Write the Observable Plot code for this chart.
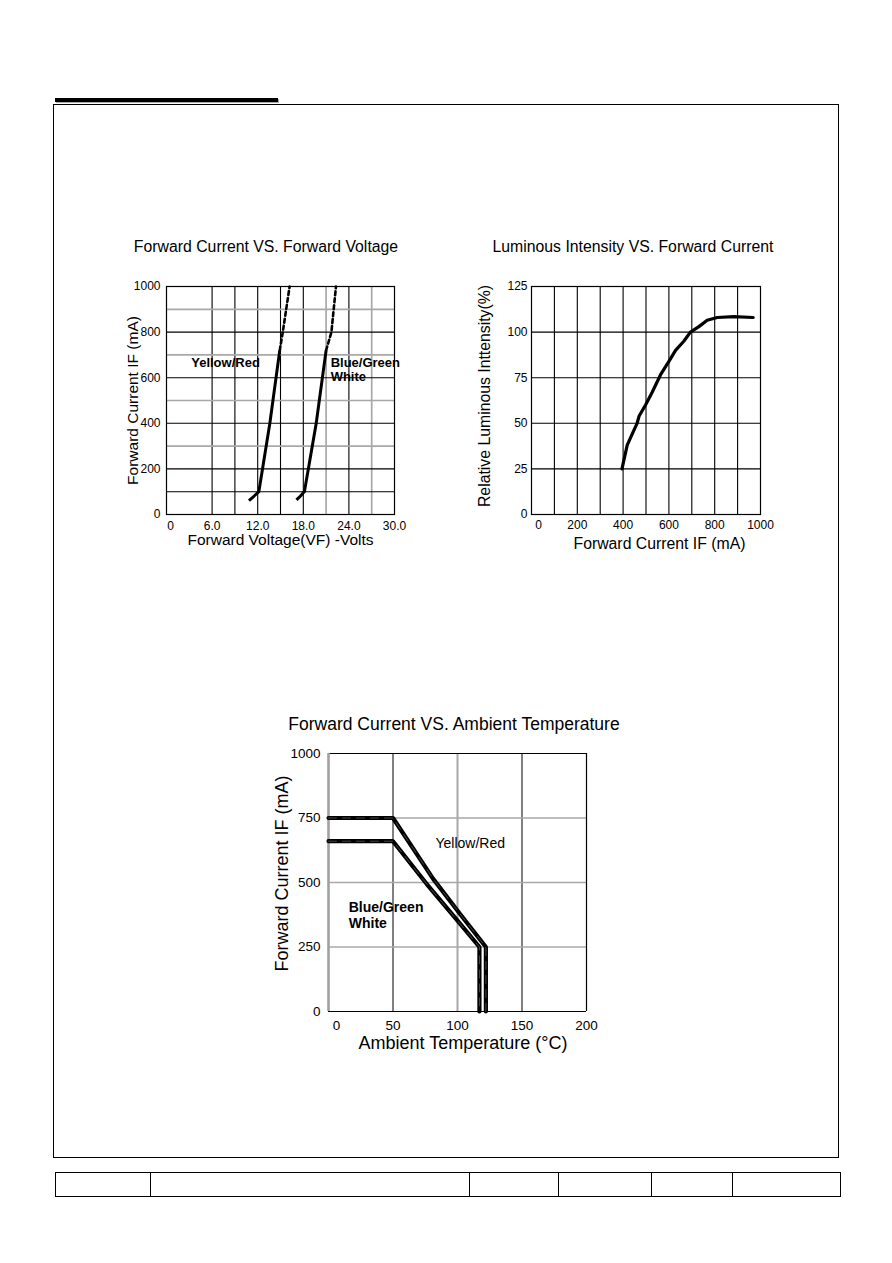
<!DOCTYPE html>
<html><head><meta charset="utf-8">
<script src="https://cdn.jsdelivr.net/npm/d3@7"></script>
<script src="https://cdn.jsdelivr.net/npm/@observablehq/plot@0.6"></script>
<style>
body{margin:0;background:#fff;font-family:"Liberation Sans",Arial,sans-serif;}
#page{position:relative;width:892px;height:1263px;overflow:hidden;background:#fff;}
.abs{position:absolute;}
.title{position:absolute;transform:translate(-50%,-50%);white-space:nowrap;color:#000;line-height:1;}
.vline{position:absolute;top:0;width:1px;height:100%;background:#000;}
</style></head><body><div id="page">
<div class="abs" style="left:55px;top:98px;width:223px;height:4px;background:#000;box-shadow:1px 1px 0 #aaa;"></div>
<div class="abs" style="left:53px;top:104px;width:786px;height:1054px;border:1px solid #000;box-sizing:border-box;"></div>
<div class="abs" id="table" style="left:55px;top:1172px;width:786px;height:25px;border:1.5px solid #000;box-sizing:border-box;"></div>
<div class="title" id="t1" style="left:266px;top:247px;font-size:15.8px;"></div>
<div class="title" id="t2" style="left:633px;top:247px;font-size:15.8px;"></div>
<div class="title" id="t3" style="left:454px;top:725px;font-size:17.5px;"></div>
<div class="abs" id="c1" style="left:100px;top:276px;"></div>
<div class="abs" id="c2" style="left:470px;top:276px;"></div>
<div class="abs" id="c3" style="left:260px;top:740px;"></div>
</div>
<script>
// ---------- Chart 1: Forward Current vs Forward Voltage ----------
const title1 = "Forward Current VS. Forward Voltage";
const xLabel1 = "Forward Voltage(VF) -Volts";
const yLabel1 = "Forward Current IF (mA)";
const vfTicks = [6, 12, 18, 24, 30];
const ifTicks1 = [0, 200, 400, 600, 800, 1000];
const vGridBlack1 = [6, 9, 12, 15, 18, 24];
const vGridGray1 = [21, 27];
const hGridBlack1 = [100, 200, 400, 600, 800];
const hGridGray1 = [300, 500, 700, 900];
const yellowVolts = [10.85, 11.5, 12.15, 13.6, 14.9];
const yellowCurrent = [61, 80, 100, 400, 720];
const yellowDashVolts = [14.9, 15.3, 16.2];
const yellowDashCurrent = [720, 800, 1000];
const blueVolts = [17.1, 17.6, 18.15, 19.7, 21.0];
const blueCurrent = [64, 80, 101, 400, 720];
const blueDashVolts = [21.0, 21.7, 22.3];
const blueDashCurrent = [720, 800, 1000];
const labelsC1 = [{v: 3.25, i: 667, t: "Yellow/Red"}, {v: 21.6, i: 667, t: "Blue/Green"}, {v: 21.6, i: 602, t: "White"}];

// ---------- Chart 2: Luminous Intensity vs Forward Current ----------
const title2 = "Luminous Intensity VS. Forward Current";
const xLabel2 = "Forward Current IF (mA)";
const yLabel2 = "Relative Luminous Inttensity(%)";
const ifTicks2 = [200, 400, 600, 800, 1000];
const relTicks = [0, 25, 50, 75, 100, 125];
const vGrid2 = [100, 200, 300, 400, 500, 600, 700, 800, 900];
const hGrid2 = [25, 50, 75, 100];
const lumCurrent = [395, 418, 443, 461, 470, 498, 527, 563, 600, 629, 665, 694, 731, 767, 811, 884, 968];
const lumRelative = [25, 38, 45, 50, 54, 60, 67, 76.5, 84, 90, 95, 100, 103, 106.5, 108, 108.5, 108];

// ---------- Chart 3: Forward Current vs Ambient Temperature ----------
const title3 = "Forward Current VS. Ambient Temperature";
const xLabel3 = "Ambient Temperature (\u00B0C)";
const yLabel3 = "Forward Current IF (mA)";
const tempTicks = [50, 100, 150, 200];
const ifTicks3 = [0, 250, 500, 750, 1000];
const vGridBlack3 = [50, 150];
const vGridGray3 = [100];
const hGridGray3 = [250, 500, 750];
const yellowTemp = [0, 50, 81, 102, 122, 122];
const yellowIF = [750, 750, 515, 378, 250, 0];
const blueTemp = [0, 50, 76, 100, 117, 117];
const blueIF = [660, 660, 495, 352, 250, 0];
const labelsC3Plain = [{t: 82.9, i: 651, s: "Yellow/Red"}];
const labelsC3Bold = [{t: 15.7, i: 404, s: "Blue/Green"}, {t: 15.7, i: 340, s: "White"}];

const FONT = "Liberation Sans, Arial, Helvetica, sans-serif";
const zip = (xs, ys) => xs.map((x, k) => ({x, y: ys[k]}));
const plain = d => String(d);

document.getElementById("t1").textContent = title1;
document.getElementById("t2").textContent = title2;
document.getElementById("t3").textContent = title3;

// table dividers
const tableCols = [150, 469, 558, 651, 732];
const tbl = document.getElementById("table");
tableCols.forEach(c => { const d = document.createElement("div"); d.className = "vline"; d.style.left = (c - 56) + "px"; tbl.appendChild(d); });

const chart1 = Plot.plot({
  width: 316, height: 283, marginLeft: 66, marginTop: 10, marginRight: 22, marginBottom: 45,
  style: {fontFamily: FONT, fontSize: "12px", color: "#000", background: "transparent", overflow: "visible"},
  x: {domain: [0, 30]},
  y: {domain: [0, 1000]},
  marks: [
    Plot.ruleX(vGridGray1, {x: d => d, stroke: "#a8a8a8", strokeWidth: 1.7}),
    Plot.ruleX(vGridBlack1, {x: d => d, stroke: "#000", strokeWidth: 1.1}),
    Plot.ruleY(hGridGray1, {y: d => d, stroke: "#a8a8a8", strokeWidth: 1.7}),
    Plot.ruleY(hGridBlack1, {y: d => d, stroke: "#000", strokeWidth: 1.1}),
    Plot.frame({stroke: "#000", strokeWidth: 1.2}),
    Plot.line(zip(yellowVolts, yellowCurrent), {x: "x", y: "y", stroke: "#000", strokeWidth: 3, strokeLinecap: "butt"}),
    Plot.line(zip(yellowDashVolts, yellowDashCurrent), {x: "x", y: "y", stroke: "#000", strokeWidth: 2.6, strokeDasharray: "4,3"}),
    Plot.line(zip(blueVolts, blueCurrent), {x: "x", y: "y", stroke: "#000", strokeWidth: 3, strokeLinecap: "butt"}),
    Plot.line(zip(blueDashVolts, blueDashCurrent), {x: "x", y: "y", stroke: "#000", strokeWidth: 2.6, strokeDasharray: "4,3"}),
    Plot.text(labelsC1, {x: "v", y: "i", text: "t", textAnchor: "start", lineAnchor: "middle", fontWeight: "bold", fontSize: 13}),
    Plot.axisY({ticks: ifTicks1, tickSize: 0, tickPadding: 6, tickFormat: plain, label: null, fontSize: 12}),
    Plot.axisX({ticks: vfTicks, tickSize: 0, tickPadding: 7, tickFormat: d => d.toFixed(1), label: null, fontSize: 12}),
    Plot.text([0], {x: d => d, text: plain, frameAnchor: "bottom", lineAnchor: "top", dy: 7, dx: 4, fontSize: 12}),
    Plot.text([yLabel1], {text: d => d, frameAnchor: "left", textAnchor: "middle", rotate: -90, lineAnchor: "top", dx: -40, fontSize: 15.5}),
    Plot.text([xLabel1], {text: d => d, frameAnchor: "bottom", textAnchor: "middle", lineAnchor: "bottom", dy: 30.5, fontSize: 15.5})
  ]
});
document.getElementById("c1").appendChild(chart1);

const chart2 = Plot.plot({
  width: 312, height: 283, marginLeft: 61, marginTop: 10, marginRight: 22, marginBottom: 45,
  style: {fontFamily: FONT, fontSize: "12px", color: "#000", background: "transparent", overflow: "visible"},
  x: {domain: [0, 1000]},
  y: {domain: [0, 125]},
  marks: [
    Plot.ruleX(vGrid2, {x: d => d, stroke: "#000", strokeWidth: 1.1}),
    Plot.ruleY(hGrid2, {y: d => d, stroke: "#000", strokeWidth: 1.1}),
    Plot.frame({stroke: "#000", strokeWidth: 1.2}),
    Plot.line(zip(lumCurrent, lumRelative), {x: "x", y: "y", stroke: "#000", strokeWidth: 3.2, curve: "linear"}),
    Plot.axisY({ticks: relTicks, tickSize: 0, tickPadding: 4, tickFormat: plain, label: null, fontSize: 12}),
    Plot.axisX({ticks: ifTicks2, tickSize: 0, tickPadding: 6, tickFormat: plain, label: null, fontSize: 12}),
    Plot.text([0], {x: d => d, text: plain, frameAnchor: "bottom", lineAnchor: "top", dy: 6, dx: 7, fontSize: 12}),
    Plot.text([yLabel2], {text: d => d, frameAnchor: "left", textAnchor: "middle", rotate: -90, lineAnchor: "top", dx: -52.7, dy: -4.5, fontSize: 15.8}),
    Plot.text([xLabel2], {text: d => d, frameAnchor: "bottom", textAnchor: "middle", lineAnchor: "bottom", dy: 34.5, dx: 13.5, fontSize: 15.8})
  ]
});
document.getElementById("c2").appendChild(chart2);

const chart3 = Plot.plot({
  width: 356, height: 331, marginLeft: 68, marginTop: 13, marginRight: 30, marginBottom: 60,
  style: {fontFamily: FONT, fontSize: "13.5px", color: "#000", background: "transparent", overflow: "visible"},
  x: {domain: [0, 200]},
  y: {domain: [0, 1000]},
  marks: [
    Plot.ruleX(vGridGray3, {x: d => d, stroke: "#a8a8a8", strokeWidth: 2}),
    Plot.ruleX(vGridBlack3, {x: d => d, stroke: "#000", strokeWidth: 1}),
    Plot.ruleY(hGridGray3, {y: d => d, stroke: "#a8a8a8", strokeWidth: 1.6}),
    Plot.ruleY([1000, 0], {y: d => d, stroke: "#000", strokeWidth: 1.2}),
    Plot.ruleX([200], {x: d => d, stroke: "#000", strokeWidth: 1.2}),
    Plot.ruleX([0], {x: d => d, stroke: "#a0a0a0", strokeWidth: 2.6}),
    Plot.line(zip(yellowTemp, yellowIF), {x: "x", y: "y", stroke: "#000", strokeWidth: 4.2, strokeLinejoin: "miter"}),
    Plot.line(zip(blueTemp, blueIF), {x: "x", y: "y", stroke: "#000", strokeWidth: 4.2, strokeLinejoin: "miter"}),
    Plot.line(zip(yellowTemp, yellowIF), {x: "x", y: "y", stroke: "#777", strokeWidth: 0.6, strokeDasharray: "8,6"}),
    Plot.line(zip(blueTemp, blueIF), {x: "x", y: "y", stroke: "#777", strokeWidth: 0.6, strokeDasharray: "8,6"}),
    Plot.text(labelsC3Plain, {x: "t", y: "i", text: "s", textAnchor: "start", lineAnchor: "middle", fontSize: 14}),
    Plot.text(labelsC3Bold, {x: "t", y: "i", text: "s", textAnchor: "start", lineAnchor: "middle", fontWeight: "bold", fontSize: 14}),
    Plot.axisY({ticks: ifTicks3, tickSize: 0, tickPadding: 8, tickFormat: plain, label: null, fontSize: 13.5}),
    Plot.axisX({ticks: tempTicks, tickSize: 0, tickPadding: 9, tickFormat: plain, label: null, fontSize: 13.5}),
    Plot.text([0], {x: d => d, text: plain, frameAnchor: "bottom", lineAnchor: "top", dy: 9, dx: 8, fontSize: 13.5}),
    Plot.text([yLabel3], {text: d => d, frameAnchor: "left", textAnchor: "middle", rotate: -90, lineAnchor: "top", dx: -53, dy: -9, fontSize: 18}),
    Plot.text([xLabel3], {text: d => d, frameAnchor: "bottom", textAnchor: "middle", lineAnchor: "bottom", dy: 37, dx: 5.5, fontSize: 18})
  ]
});
document.getElementById("c3").appendChild(chart3);
</script>
</body></html>
